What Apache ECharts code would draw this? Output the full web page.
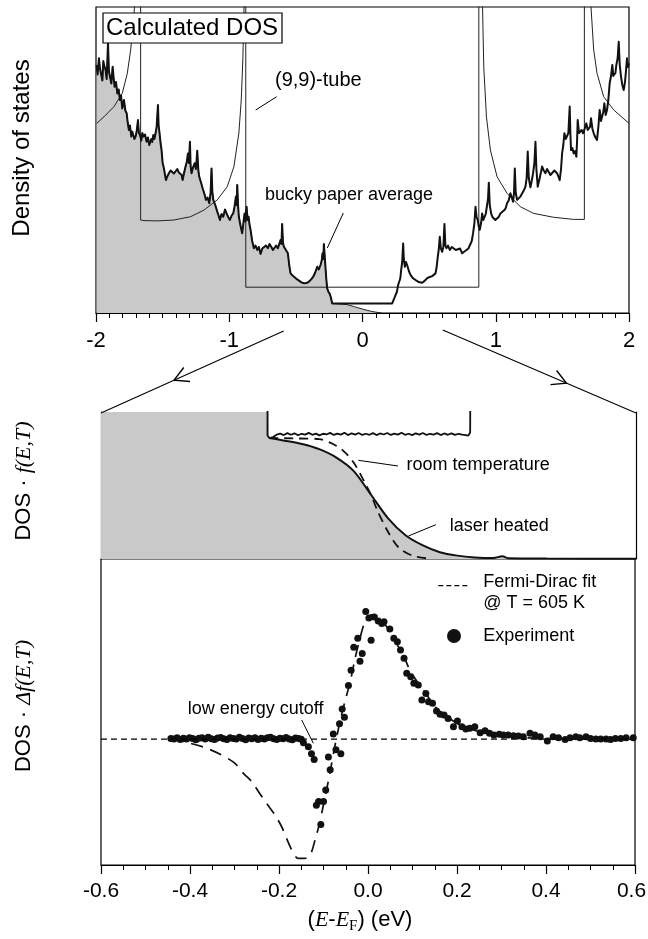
<!DOCTYPE html>
<html><head><meta charset="utf-8">
<script src="https://cdn.jsdelivr.net/npm/echarts/dist/echarts.min.js"></script>
<style>html,body{margin:0;padding:0;background:#fff}#c{width:648px;height:939px}</style>
</head><body><div id="c"></div>
<script>
// ---------- DATA ----------
// Top panel: energy (eV) vs DOS (arb. units, 0..102)
var topTicks = [-2, -1, 0, 1, 2];
var avgLeft = [[-1.995,82.7],[-1.988,79.5],[-1.978,84.9],[-1.97,81.5],[-1.96,79.3],[-1.952,77.5],[-1.945,84.0],[-1.94,82.7],[-1.928,81.0],[-1.92,78.0],[-1.91,89.9],[-1.903,80.5],[-1.895,78.8],[-1.885,76.5],[-1.875,82.1],[-1.867,78.0],[-1.86,75.4],[-1.85,77.0],[-1.84,73.2],[-1.83,74.5],[-1.82,71.0],[-1.812,72.5],[-1.803,68.2],[-1.795,70.0],[-1.79,71.0],[-1.78,67.5],[-1.77,66.6],[-1.762,63.5],[-1.753,61.0],[-1.745,62.5],[-1.735,58.8],[-1.728,60.5],[-1.72,61.0],[-1.712,58.0],[-1.703,58.8],[-1.695,60.5],[-1.685,64.3],[-1.678,60.0],[-1.67,59.3],[-1.66,57.5],[-1.652,60.0],[-1.645,58.8],[-1.632,59.5],[-1.62,57.1],[-1.61,58.5],[-1.6,56.0],[-1.595,56.6],[-1.585,58.0],[-1.578,57.0],[-1.57,59.3],[-1.562,58.0],[-1.553,59.9],[-1.545,62.0],[-1.535,69.3],[-1.53,62.5],[-1.523,59.9],[-1.515,56.5],[-1.508,54.3],[-1.5,50.0],[-1.49,48.2],[-1.482,46.0],[-1.475,44.3],[-1.465,45.5],[-1.453,46.6],[-1.44,47.5],[-1.428,47.7],[-1.415,46.5],[-1.403,47.1],[-1.39,48.0],[-1.378,46.8],[-1.365,47.1],[-1.357,46.0],[-1.35,44.3],[-1.34,46.5],[-1.328,48.8],[-1.318,50.5],[-1.31,53.2],[-1.303,50.0],[-1.295,57.1],[-1.29,49.0],[-1.283,46.6],[-1.272,48.5],[-1.26,49.9],[-1.25,48.0],[-1.24,54.1],[-1.232,47.5],[-1.225,45.4],[-1.212,43.5],[-1.2,41.6],[-1.188,40.0],[-1.175,37.7],[-1.163,38.5],[-1.15,36.6],[-1.14,40.0],[-1.133,48.2],[-1.127,40.5],[-1.12,37.7],[-1.105,36.0],[-1.09,33.8],[-1.08,32.5],[-1.07,31.0],[-1.058,33.0],[-1.045,32.1],[-1.032,34.5],[-1.02,33.2],[-1.008,32.0],[-0.995,31.0],[-0.982,32.5],[-0.97,33.2],[-0.96,35.5],[-0.95,38.8],[-0.944,36.0],[-0.94,42.7],[-0.934,36.0],[-0.928,32.1],[-0.915,29.0],[-0.903,26.6],[-0.894,30.0],[-0.885,33.2],[-0.878,30.5],[-0.87,35.4],[-0.862,31.0],[-0.855,32.1],[-0.848,29.5],[-0.84,27.7],[-0.828,24.0],[-0.815,21.6],[-0.803,22.5],[-0.79,21.0],[-0.778,22.0],[-0.765,19.7],[-0.752,21.5],[-0.74,21.0],[-0.725,22.5],[-0.71,21.6],[-0.698,23.0],[-0.685,22.1],[-0.672,21.0],[-0.66,20.4],[-0.648,22.5],[-0.635,21.6],[-0.625,22.0],[-0.615,24.3],[-0.608,23.0],[-0.603,29.7],[-0.597,23.5],[-0.59,22.1],[-0.575,21.0],[-0.56,19.9],[-0.55,16.0],[-0.54,13.2],[-0.525,12.5],[-0.51,11.9],[-0.49,11.2],[-0.475,10.8],[-0.458,10.2],[-0.44,9.9],[-0.42,10.0],[-0.403,10.4],[-0.385,11.2],[-0.37,12.1],[-0.355,13.5],[-0.34,15.4],[-0.328,14.5],[-0.315,16.0],[-0.306,17.5],[-0.3,19.9],[-0.294,18.0],[-0.29,23.0],[-0.285,20.0],[-0.28,16.6],[-0.272,11.5],[-0.265,8.2],[-0.255,7.0],[-0.245,6.3],[-0.236,5.0],[-0.228,3.2]];
var avgRight = [[0.2225,3.2],[0.235,4.5],[0.248,6.0],[0.258,7.0],[0.265,8.8],[0.272,10.0],[0.28,11.0],[0.285,12.0],[0.29,14.3],[0.298,17.0],[0.305,23.2],[0.31,18.0],[0.318,15.4],[0.326,17.0],[0.335,16.0],[0.348,14.0],[0.36,12.7],[0.378,11.6],[0.398,11.0],[0.422,10.3],[0.448,10.1],[0.468,10.8],[0.485,11.6],[0.505,12.0],[0.523,12.3],[0.537,12.0],[0.548,13.2],[0.557,15.5],[0.565,18.8],[0.572,21.0],[0.58,25.4],[0.588,21.5],[0.598,20.4],[0.607,22.0],[0.615,29.7],[0.622,22.5],[0.63,21.6],[0.642,22.5],[0.655,21.0],[0.67,22.0],[0.685,21.6],[0.7,21.0],[0.715,20.4],[0.732,21.5],[0.748,19.9],[0.765,20.5],[0.78,21.0],[0.795,21.5],[0.81,22.1],[0.82,24.0],[0.83,26.6],[0.84,30.0],[0.848,35.4],[0.856,32.0],[0.865,31.0],[0.872,29.0],[0.88,27.7],[0.89,30.0],[0.898,33.2],[0.907,31.0],[0.915,31.6],[0.925,33.0],[0.935,36.0],[0.942,38.0],[0.948,43.4],[0.955,36.0],[0.965,33.2],[0.975,32.0],[0.985,31.6],[0.997,31.0],[1.01,30.4],[1.022,32.0],[1.035,33.2],[1.05,33.0],[1.065,34.3],[1.075,35.0],[1.085,36.6],[1.097,37.5],[1.11,39.9],[1.12,38.5],[1.13,37.1],[1.137,40.0],[1.143,48.2],[1.15,40.0],[1.16,37.7],[1.172,38.0],[1.185,38.8],[1.2,40.0],[1.212,41.0],[1.223,42.1],[1.232,45.0],[1.24,53.8],[1.248,45.0],[1.26,41.9],[1.27,44.0],[1.28,46.6],[1.29,50.0],[1.298,57.1],[1.305,48.0],[1.315,42.1],[1.33,45.0],[1.348,48.8],[1.36,47.5],[1.373,46.6],[1.385,48.0],[1.398,47.7],[1.41,46.0],[1.423,46.6],[1.44,47.5],[1.46,46.6],[1.47,45.5],[1.48,44.3],[1.49,48.0],[1.498,53.2],[1.507,56.0],[1.515,59.9],[1.525,58.0],[1.535,57.7],[1.545,60.0],[1.555,68.8],[1.56,60.0],[1.565,54.3],[1.575,55.0],[1.585,53.2],[1.595,54.0],[1.605,52.1],[1.61,57.0],[1.615,64.3],[1.625,60.0],[1.635,59.9],[1.645,61.0],[1.655,59.9],[1.668,61.5],[1.68,63.2],[1.69,61.0],[1.698,60.4],[1.707,62.0],[1.715,64.9],[1.725,61.5],[1.735,59.9],[1.748,58.5],[1.76,57.7],[1.77,62.0],[1.78,67.7],[1.79,64.0],[1.798,65.4],[1.807,67.0],[1.815,69.9],[1.825,66.0],[1.835,67.7],[1.845,71.0],[1.855,76.6],[1.865,79.0],[1.875,82.7],[1.882,79.0],[1.89,78.8],[1.898,80.0],[1.905,82.7],[1.915,85.0],[1.923,90.4],[1.93,83.0],[1.94,78.8],[1.95,76.0],[1.96,74.3],[1.97,77.0],[1.978,81.0],[1.985,84.9],[1.992,82.0],[2.0,83.2]];
var topFillTail = [[-0.17,3.0],[-0.117,2.8],[-0.06,2.1],[0.0,1.3],[0.07,0.5],[0.142,0.0]];
var tubeDos = [[-1.995,63.2],[-1.94,65.4],[-1.865,68.8],[-1.803,73.2],[-1.765,79.9],[-1.74,87.7],[-1.72,96.6],[-1.708,104],[-1.665,200],[-1.665,31.0],[-1.64,30.8],[-1.54,30.7],[-1.415,31.0],[-1.29,32.1],[-1.19,34.3],[-1.09,37.7],[-1.015,42.1],[-0.965,48.8],[-0.928,59.9],[-0.91,71.0],[-0.898,84.3],[-0.888,104],[-0.876,200],[-0.876,8.6],[0.873,8.6],[0.873,200],[0.9,104],[0.91,82.1],[0.93,65.4],[0.96,54.3],[1.01,45.4],[1.085,39.9],[1.185,35.4],[1.285,33.2],[1.435,31.9],[1.585,31.2],[1.665,31.2],[1.665,200],[1.712,104],[1.735,87.7],[1.76,79.9],[1.81,72.1],[1.885,67.7],[2.0,63.2]];

// Middle panel: DOS·f(E,T) (arb. units, 0..1, clipped)
var midGapDos = [[-0.2266,1.5],[-0.2266,0.84],[-0.222,0.822],[-0.214,0.830],[-0.206,0.846],[-0.198,0.853],[-0.19,0.843],[-0.182,0.856],[-0.174,0.845],[-0.166,0.855],[-0.158,0.842],[-0.15,0.852],[-0.142,0.846],[-0.134,0.858],[-0.126,0.845],[-0.118,0.853],[-0.11,0.841],[-0.102,0.852],[-0.094,0.847],[-0.086,0.858],[-0.078,0.844],[-0.07,0.853],[-0.062,0.846],[-0.054,0.859],[-0.046,0.843],[-0.038,0.855],[-0.03,0.846],[-0.022,0.857],[-0.014,0.844],[-0.006,0.852],[0.002,0.845],[0.01,0.856],[0.018,0.843],[0.026,0.854],[0.034,0.847],[0.042,0.857],[0.05,0.844],[0.058,0.853],[0.066,0.846],[0.074,0.859],[0.082,0.845],[0.09,0.852],[0.098,0.843],[0.106,0.855],[0.114,0.846],[0.122,0.857],[0.13,0.844],[0.138,0.852],[0.146,0.846],[0.154,0.856],[0.162,0.843],[0.17,0.854],[0.178,0.845],[0.186,0.855],[0.194,0.844],[0.202,0.852],[0.21,0.846],[0.218,0.843],[0.224,0.840],[0.228,0.86],[0.229,1.5]];
var midBelowGap = [[-0.6,1.5],[-0.2266,1.5]];
var laserHeated = [[-0.2227,0.823],[-0.188,0.805],[-0.149,0.782],[-0.1105,0.747],[-0.072,0.69],[-0.033,0.598],[0.0056,0.437],[0.044,0.276],[0.083,0.161],[0.122,0.092],[0.16,0.046],[0.199,0.023],[0.238,0.011],[0.28,0.007],[0.3,0.018],[0.315,0.005],[0.4,0.003],[0.6,0.002]];
var roomTemp = [[-0.2227,0.823],[-0.16,0.82],[-0.1105,0.816],[-0.0796,0.782],[-0.0564,0.736],[-0.033,0.655],[-0.0099,0.529],[0.0056,0.437],[0.021,0.322],[0.044,0.184],[0.067,0.08],[0.098,0.023],[0.129,0.005]];

// Bottom panel: DOS·Δf(E,T)
var bottomTicks = [-0.6, -0.4, -0.2, 0.0, 0.2, 0.4, 0.6];
var zeroLine = [[-0.6,0],[0.6,0]];
var fermiFit = [[-0.441,0],[-0.407,-0.026],[-0.366,-0.068],[-0.329,-0.125],[-0.299,-0.191],[-0.28,-0.269],[-0.261,-0.335],[-0.246,-0.413],[-0.228,-0.504],[-0.209,-0.596],[-0.194,-0.688],[-0.183,-0.779],[-0.171,-0.871],[-0.157,-0.936],[-0.142,-0.936],[-0.13,-0.91],[-0.119,-0.792],[-0.11,-0.675],[-0.097,-0.465],[-0.085,-0.256],[-0.074,-0.047],[-0.063,0.136],[-0.052,0.293],[-0.04,0.449],[-0.029,0.633],[-0.018,0.79],[-0.0067,0.92],[0.0083,0.973],[0.023,0.959],[0.042,0.88],[0.057,0.802],[0.064,0.75],[0.079,0.659],[0.094,0.541],[0.113,0.437],[0.132,0.345],[0.154,0.241],[0.177,0.175],[0.207,0.111],[0.237,0.071],[0.274,0.037],[0.312,0.018],[0.387,0.005],[0.461,0],[0.6,0]];
var expLow = [[-0.443,0.004],[-0.436,0.0],[-0.429,0.010],[-0.422,-0.004],[-0.415,0.007],[-0.408,0.001],[-0.401,0.011],[-0.394,0.004],[-0.387,-0.005],[-0.38,0.006],[-0.373,0.010],[-0.366,0.0],[-0.359,0.013],[-0.352,0.003],[-0.345,-0.004],[-0.338,0.008],[-0.331,0.012],[-0.324,0.002],[-0.317,-0.003],[-0.31,0.010],[-0.303,0.005],[-0.296,0.0],[-0.289,0.014],[-0.282,0.004],[-0.275,-0.005],[-0.268,0.009],[-0.261,0.002],[-0.254,0.011],[-0.247,-0.003],[-0.24,0.006],[-0.233,0.001],[-0.226,0.010],[-0.219,0.013],[-0.212,0.002],[-0.205,-0.004],[-0.198,0.007],[-0.191,0.003],[-0.184,0.012],[-0.177,0.0],[-0.17,-0.006],[-0.163,0.008],[-0.156,0.004],[-0.15,-0.002]];
var expMid = [[-0.145,-0.03],[-0.134,-0.06],[-0.127,-0.115],[-0.121,-0.16],[-0.116,-0.52],[-0.111,-0.49],[-0.106,-0.67],[-0.1,-0.49],[-0.095,-0.4],[-0.089,-0.14],[-0.085,-0.24],[-0.078,0.04],[-0.072,-0.085],[-0.064,0.12],[-0.061,-0.115],[-0.058,0.235],[-0.053,0.17],[-0.044,0.42],[-0.038,0.54],[-0.032,0.72],[-0.023,0.79],[-0.018,0.61],[-0.013,0.67],[-0.005,1.0],[0.002,0.95],[0.007,0.775],[0.014,0.957],[0.023,0.925],[0.031,0.907],[0.036,0.92],[0.049,0.863],[0.058,0.79],[0.066,0.763],[0.073,0.698],[0.081,0.633],[0.087,0.515],[0.096,0.489],[0.103,0.437],[0.113,0.424],[0.121,0.306],[0.13,0.358],[0.136,0.293],[0.145,0.28],[0.154,0.22],[0.162,0.194],[0.171,0.188],[0.18,0.162],[0.192,0.096],[0.201,0.141],[0.211,0.096],[0.22,0.078],[0.229,0.084],[0.24,0.096]];
var expTail = [[0.252,0.049],[0.263,0.065],[0.273,0.045],[0.283,0.031],[0.295,0.037],[0.304,0.031],[0.315,0.031],[0.327,0.026],[0.338,0.024],[0.349,0.018],[0.364,0.045],[0.375,0.031],[0.387,0.018],[0.403,-0.016],[0.416,0.018],[0.428,0.01],[0.443,-0.003],[0.454,0.01],[0.467,0.018],[0.476,0.01],[0.49,0.018],[0.5,0.005],[0.512,0.0],[0.523,0.0],[0.535,0.0],[0.545,-0.003],[0.556,0.005],[0.568,0.005],[0.58,0.01],[0.596,0.01]];

// ---------- CHART ----------
var SANS = '"Liberation Sans", Arial, Helvetica, sans-serif';
var SERIF = '"Liberation Serif", "Times New Roman", serif';
var INK = '#111';
var GREY = '#c9c9c9';

var chart = echarts.init(document.getElementById('c'), null, {renderer: 'canvas', width: 648, height: 939});

var avgData = avgLeft.concat(avgRight);
var topFill = avgLeft.concat(topFillTail);
var midFill = midBelowGap.concat(laserHeated);
var expAll = expLow.concat(expMid, expTail);

function txt(x, y, s, size, extra) {
  var st = {text: s, fontSize: size, fontFamily: SANS, fill: '#000', align: 'left', verticalAlign: 'middle', textAlign: 'left', textVerticalAlign: 'middle'};
  if (extra) for (var k in extra) st[k] = extra[k];
  return {type: 'text', x: x, y: y, z: 100, style: st};
}
function seg(x1, y1, x2, y2, w, dash) {
  var st = {stroke: '#000', lineWidth: w || 1};
  if (dash) st.lineDash = dash;
  return {type: 'line', z: 100, shape: {x1: x1, y1: y1, x2: x2, y2: y2}, style: st};
}
function arrow(x1, y1, x2, y2, t) {
  var els = [seg(x1, y1, x2, y2, 1.1)];
  var tx = x1 + (x2 - x1) * t, ty = y1 + (y2 - y1) * t;
  var ang = Math.atan2(y1 - y2, x1 - x2);
  var L = 16, a = 0.5;
  els.push({type: 'polyline', z: 100, shape: {points: [[tx + L * Math.cos(ang + a), ty + L * Math.sin(ang + a)], [tx, ty], [tx + L * Math.cos(ang - a), ty + L * Math.sin(ang - a)]]}, style: {stroke: '#000', lineWidth: 1.4, fill: null}});
  return els;
}

var mctx = document.createElement('canvas').getContext('2d');
function mw(font, s) { mctx.font = font; return mctx.measureText(s).width; }

var graphics = [];
graphics.push({type: 'rect', z: 100, shape: {x: 103, y: 13, width: 179, height: 30}, style: {fill: '#fff', stroke: '#000', lineWidth: 1.2}});
graphics.push(txt(106, 28.5, 'Calculated DOS', 24));
graphics.push(txt(275, 80, '(9,9)-tube', 20));
graphics.push(seg(255.7, 110, 276.7, 96.7, 1));
graphics.push(txt(265, 195, 'bucky paper average', 18));
graphics.push(seg(327.3, 248, 343.3, 213, 1));
graphics.push({type: 'text', x: 22, y: 148, rotation: Math.PI / 2, z: 100, style: {text: 'Density of states', fontSize: 24, fontFamily: SANS, fill: '#000', align: 'center', verticalAlign: 'middle', textAlign: 'center', textVerticalAlign: 'middle'}});
graphics.push({type: 'text', x: 24, y: 481, rotation: Math.PI / 2, z: 100, style: {text: '{a|DOS · }{b|f(E,T)}', align: 'center', verticalAlign: 'middle', textAlign: 'center', textVerticalAlign: 'middle', rich: {a: {fontSize: 22, fontFamily: SANS, fill: '#000', color: '#000'}, b: {fontSize: 22, fontFamily: SERIF, fontStyle: 'italic', fill: '#000', color: '#000'}}}});
graphics.push({type: 'text', x: 24, y: 706, rotation: Math.PI / 2, z: 100, style: {text: '{a|DOS · }{b|Δf(E,T)}', align: 'center', verticalAlign: 'middle', textAlign: 'center', textVerticalAlign: 'middle', rich: {a: {fontSize: 22, fontFamily: SANS, fill: '#000', color: '#000'}, b: {fontSize: 22, fontFamily: SERIF, fontStyle: 'italic', fill: '#000', color: '#000'}}}});
graphics = graphics.concat(arrow(283.7, 331, 101, 413, 0.6));
graphics = graphics.concat(arrow(442.8, 330, 636, 413, 0.64));
graphics.push(txt(406.6, 465.4, 'room temperature', 18));
graphics.push(seg(358.4, 460.3, 398, 466, 1));
graphics.push(txt(449.7, 525.7, 'laser heated', 18));
graphics.push(seg(408.4, 536, 435.9, 524.7, 1));
graphics.push(txt(187.7, 709, 'low energy cutoff', 18));
graphics.push(seg(301.7, 720, 313.3, 743.3, 1));
graphics.push(seg(438.3, 585.7, 468.3, 585.7, 1.2, [5, 3]));
graphics.push(txt(483.3, 582.3, 'Fermi-Dirac fit', 18));
graphics.push(txt(483.3, 603.3, '@ T = 605 K', 18));
graphics.push({type: 'circle', z: 100, shape: {cx: 454, cy: 636, r: 7}, style: {fill: INK}});
graphics.push(txt(483.3, 636, 'Experiment', 18));
(function () {
  var fS = '22px ' + SANS, fI = 'italic 22px ' + SERIF, fSub = '15px ' + SERIF;
  var parts = [
    {s: '(', font: fS, st: {fontFamily: SANS, fontSize: 22}, dy: 0},
    {s: 'E', font: fI, st: {fontFamily: SERIF, fontSize: 22, fontStyle: 'italic'}, dy: 0},
    {s: '-', font: fS, st: {fontFamily: SANS, fontSize: 22}, dy: 0},
    {s: 'E', font: fI, st: {fontFamily: SERIF, fontSize: 22, fontStyle: 'italic'}, dy: 0},
    {s: 'F', font: fSub, st: {fontFamily: SERIF, fontSize: 15}, dy: 6},
    {s: ') (eV)', font: fS, st: {fontFamily: SANS, fontSize: 22}, dy: 0}
  ];
  var total = 0;
  parts.forEach(function (p) { p.w = mw(p.font, p.s); total += p.w; });
  var x = 360 - total / 2;
  parts.forEach(function (p) {
    graphics.push(txt(x, 920 + p.dy, p.s, p.st.fontSize, p.st));
    x += p.w;
  });
})();

var axisLineStyle = {color: '#000', width: 1.2};
var option = {
  backgroundColor: '#fff',
  animation: false,
  grid: [
    {left: 96, top: 7, width: 533, height: 306, show: true, borderColor: '#000', borderWidth: 1.2, backgroundColor: 'transparent', containLabel: false, outerBoundsMode: 'none'},
    {left: 101, top: 412, width: 535, height: 147, show: false, containLabel: false, outerBoundsMode: 'none'},
    {left: 101, top: 559, width: 534, height: 306, show: true, borderColor: '#000', borderWidth: 1.2, backgroundColor: 'transparent', containLabel: false, outerBoundsMode: 'none'}
  ],
  xAxis: [
    {gridIndex: 0, type: 'value', min: topTicks[0], max: topTicks[topTicks.length - 1], interval: 1, position: 'bottom',
     axisLine: {show: true, lineStyle: axisLineStyle, onZero: false},
     axisTick: {show: true, inside: false, length: 9, lineStyle: {color: '#000', width: 1.2}},
     minorTick: {show: true, splitNumber: 10, length: 5, lineStyle: {color: '#000', width: 1}},
     splitLine: {show: false}, minorSplitLine: {show: false},
     axisLabel: {show: true, margin: 17, fontSize: 22, fontFamily: SANS, color: '#000', formatter: function (v) { return String(Math.round(v)); }}},
    {gridIndex: 1, type: 'value', min: -0.6, max: 0.6, show: true,
     axisLine: {show: false}, axisTick: {show: false}, axisLabel: {show: false}, splitLine: {show: false}},
    {gridIndex: 2, type: 'value', min: bottomTicks[0], max: bottomTicks[bottomTicks.length - 1], interval: 0.2, position: 'bottom',
     axisLine: {show: true, lineStyle: axisLineStyle, onZero: false},
     axisTick: {show: true, inside: false, length: 9, lineStyle: {color: '#000', width: 1.2}},
     minorTick: {show: true, splitNumber: 4, length: 5, lineStyle: {color: '#000', width: 1}},
     splitLine: {show: false}, minorSplitLine: {show: false},
     axisLabel: {show: true, margin: 16, fontSize: 21, fontFamily: SANS, color: '#000',
       formatter: function (v) { if (Math.abs(v) < 1e-9) return '0.0'; if (v > 0.59) return '{r|' + v.toFixed(1) + '}'; return v.toFixed(1); },
       rich: {r: {fontSize: 21, fontFamily: SANS, color: '#000', padding: [0, 7, 0, 0]}}}}
  ],
  yAxis: [
    {gridIndex: 0, type: 'value', min: 0, max: 102, show: true, axisLine: {show: false}, axisTick: {show: false}, axisLabel: {show: false}, splitLine: {show: false}},
    {gridIndex: 1, type: 'value', min: 0, max: 1, position: 'left', axisLine: {show: true, onZero: false, lineStyle: {color: '#000', width: 1.2}}, axisTick: {show: false}, axisLabel: {show: false}, splitLine: {show: false}},
    {gridIndex: 2, type: 'value', min: -0.988, max: 1.412, show: true, axisLine: {show: false}, axisTick: {show: false}, axisLabel: {show: false}, splitLine: {show: false}},
    {gridIndex: 1, type: 'value', min: 0, max: 1, position: 'right', axisLine: {show: true, onZero: false, lineStyle: {color: '#000', width: 1.2}}, axisTick: {show: false}, axisLabel: {show: false}, splitLine: {show: false}}
  ],
  series: [
    {type: 'line', name: 'occupied', xAxisIndex: 0, yAxisIndex: 0, data: topFill, symbol: 'none', clip: true, silent: true,
     lineStyle: {color: '#222', width: 1}, areaStyle: {color: GREY, opacity: 1, origin: 'start'}},
    {type: 'line', name: '(9,9)-tube', xAxisIndex: 0, yAxisIndex: 0, data: tubeDos, symbol: 'none', clip: true, silent: true,
     lineStyle: {color: '#222', width: 1}},
    {type: 'line', name: 'bucky paper average', xAxisIndex: 0, yAxisIndex: 0, data: avgData, symbol: 'none', clip: true, silent: true,
     lineStyle: {color: INK, width: 2, join: 'round'}},
    {type: 'line', name: 'fill', xAxisIndex: 1, yAxisIndex: 1, data: midFill, symbol: 'none', clip: true, silent: true,
     lineStyle: {width: 0, opacity: 0}, areaStyle: {color: GREY, opacity: 1, origin: 'start'}},
    {type: 'line', name: 'gap DOS', xAxisIndex: 1, yAxisIndex: 1, data: midGapDos, symbol: 'none', clip: true, silent: true,
     lineStyle: {color: INK, width: 1.8}},
    {type: 'line', name: 'room temperature', xAxisIndex: 1, yAxisIndex: 1, data: roomTemp, symbol: 'none', clip: true, silent: true, smooth: 0.3,
     lineStyle: {color: INK, width: 1.8, type: [9, 6]}},
    {type: 'line', name: 'laser heated', xAxisIndex: 1, yAxisIndex: 1, data: laserHeated, symbol: 'none', clip: true, silent: true, smooth: 0.3,
     lineStyle: {color: INK, width: 2}},
    {type: 'line', name: 'zero', xAxisIndex: 2, yAxisIndex: 2, data: zeroLine, symbol: 'none', silent: true,
     lineStyle: {color: '#000', width: 1.2, type: [6, 4]}},
    {type: 'line', name: 'Fermi-Dirac fit', xAxisIndex: 2, yAxisIndex: 2, data: fermiFit, symbol: 'none', silent: true, smooth: 0.3,
     lineStyle: {color: INK, width: 1.7, type: [12, 8]}},
    {type: 'scatter', name: 'Experiment', xAxisIndex: 2, yAxisIndex: 2, data: expAll, symbol: 'circle', symbolSize: 7, silent: true,
     itemStyle: {color: INK, opacity: 1}}
  ],
  graphic: {elements: graphics}
};
chart.setOption(option);
</script></body></html>
